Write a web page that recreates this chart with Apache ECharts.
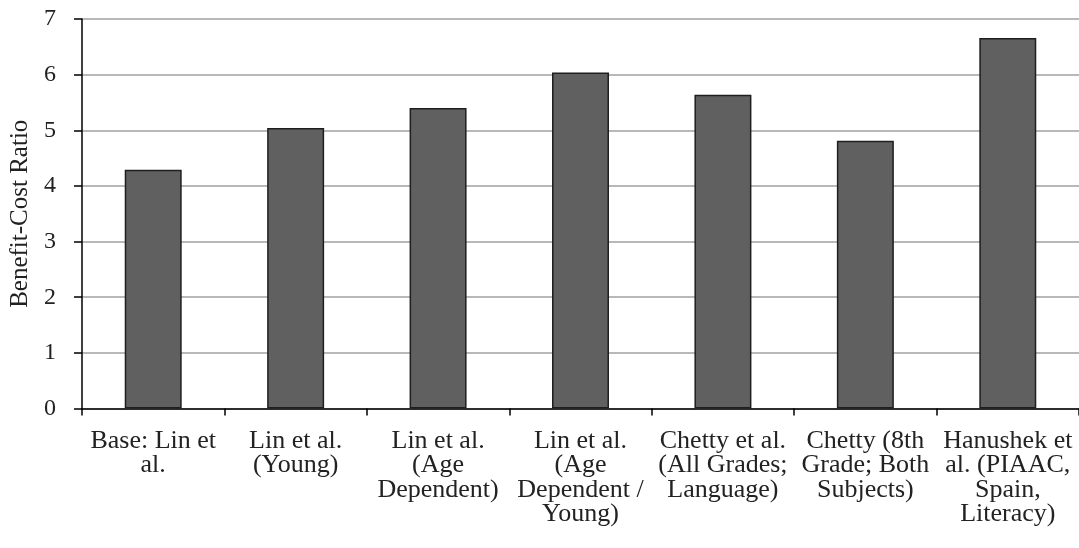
<!DOCTYPE html>
<html>
<head>
<meta charset="utf-8">
<script src="https://cdn.jsdelivr.net/npm/echarts@6/dist/echarts.min.js"></script>
<style>
  html, body { margin: 0; padding: 0; background: #fff; }
  #chart { width: 1079px; height: 548px; }
</style>
</head>
<body>
<div id="chart"></div>
<script>
  const categories = [
    'Base: Lin et\nal.',
    'Lin et al.\n(Young)',
    'Lin et al.\n(Age\nDependent)',
    'Lin et al.\n(Age\nDependent /\nYoung)',
    'Chetty et al.\n(All Grades;\nLanguage)',
    'Chetty (8th\nGrade; Both\nSubjects)',
    'Hanushek et\nal. (PIAAC,\nSpain,\nLiteracy)'
  ]
  const ratios = [4.29, 5.04, 5.40, 6.04, 5.64, 4.81, 6.66]
  const yTicks = [0, 7, 1]  // min, max, step

  const serif = '"Liberation Serif", "Times New Roman", serif'

  const chart = echarts.init(document.getElementById('chart'))
  const option = {
    animation: false,
    grid: {
      left: 82,
      right: 0,
      top: 19,
      bottom: 139.5
    },
    xAxis: {
      type: 'category',
      data: categories,
      axisLine: { lineStyle: { color: '#000', width: 1.5 } },
      axisTick: { show: true, length: 7, lineStyle: { color: '#000', width: 1.5 } },
      axisLabel: {
        interval: 0,
        color: '#222',
        fontFamily: serif,
        fontSize: 26,
        lineHeight: 24.5,
        margin: 20
      }
    },
    yAxis: {
      type: 'value',
      min: yTicks[0],
      max: yTicks[1],
      interval: yTicks[2],
      name: 'Benefit-Cost Ratio',
      nameLocation: 'middle',
      nameGap: 45,
      nameTextStyle: { color: '#222', fontFamily: serif, fontSize: 25 },
      axisLine: { show: true, lineStyle: { color: '#000', width: 1.5 } },
      axisTick: { show: true, length: 8, lineStyle: { color: '#000', width: 1.5 } },
      axisLabel: { color: '#222', fontFamily: serif, fontSize: 24, margin: 26 },
      splitLine: { lineStyle: { color: '#a0a0a0', width: 1.5 } }
    },
    series: [
      {
        type: 'bar',
        data: ratios,
        barWidth: '40%',
        itemStyle: {
          color: '#606060',
          borderColor: '#1e1e1e',
          borderWidth: 1.5
        }
      }
    ]
  }
  chart.setOption(option)
</script>
</body>
</html>
